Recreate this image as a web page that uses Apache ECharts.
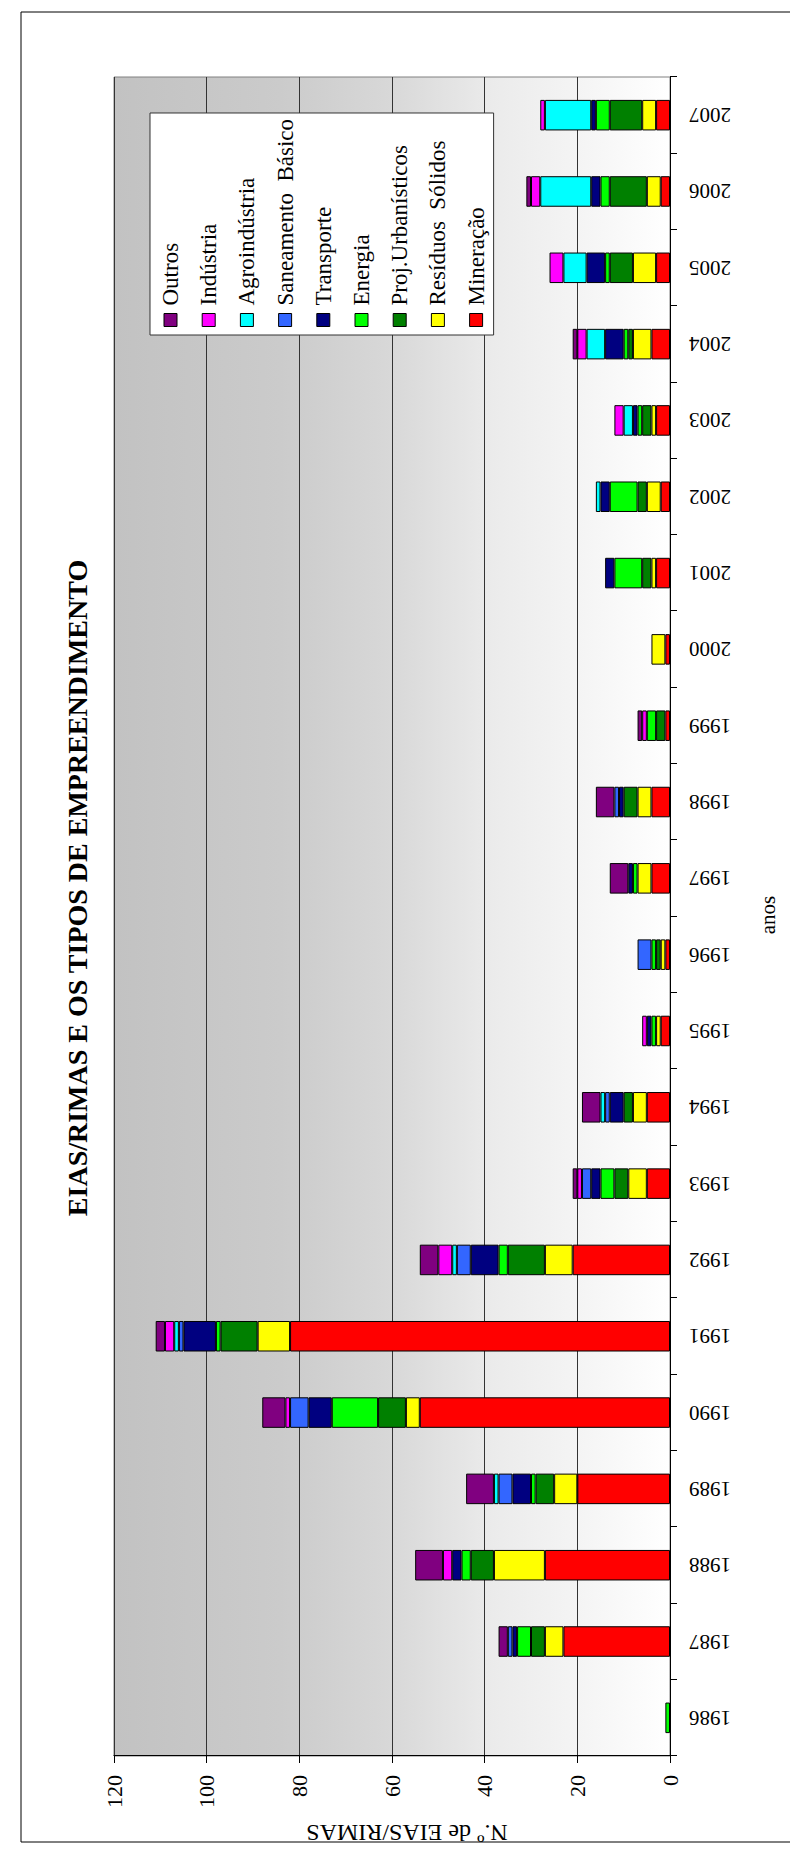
<!DOCTYPE html>
<html lang="pt">
<head>
<meta charset="utf-8">
<title>EIAS/RIMAS E OS TIPOS DE EMPREENDIMENTO</title>
<script src="https://cdn.jsdelivr.net/npm/echarts@6/dist/echarts.min.js"></script>
<style>
  html, body { margin: 0; padding: 0; background: #fff; overflow: hidden; }
  body { width: 790px; height: 1852px; position: relative; }
  /* the chart is laid out landscape and turned a quarter turn to fit the portrait page */
  #chart {
    position: absolute; left: 0; top: 0;
    width: 1852px; height: 790px;
    transform-origin: 0 0;
    transform: translateY(1852px) rotate(-90deg);
  }
</style>
</head>
<body>
<div id="chart"></div>
<script>
// Years on the category axis
const anos = ['1986','1987','1988','1989','1990','1991','1992','1993','1994','1995','1996',
              '1997','1998','1999','2000','2001','2002','2003','2004','2005','2006','2007'];

// Number of EIA/RIMA studies per enterprise type and year (1986 … 2007)
const mineracao      = [0,23,27,20,54,82,21,5,5,2,1,4,4,1,1,3,2,3,4,3,2,3];
const residuos       = [0,4,11,5,3,7,6,4,3,1,1,3,3,0,3,1,3,1,4,5,3,3];
const projUrbanos    = [0,3,5,4,6,8,8,3,2,0,1,0,3,2,0,2,2,2,1,5,8,7];
const energia        = [1,3,2,1,10,1,2,3,0,1,1,1,0,2,0,6,6,1,1,1,2,3];
const transporte     = [0,1,2,4,5,7,6,2,3,1,0,1,1,0,0,2,2,1,4,4,2,1];
const saneamento     = [0,1,0,3,4,1,3,2,1,0,3,0,1,0,0,0,0,0,0,0,0,0];
const agroindustria  = [0,0,0,1,0,1,1,0,1,0,0,0,0,0,0,0,1,2,4,5,11,10];
const industria      = [0,0,2,0,1,2,3,1,0,1,0,0,0,1,0,0,0,2,2,3,2,1];
const outros         = [0,2,6,6,5,2,4,1,4,0,0,4,4,1,0,0,0,0,1,0,1,0];

// Value axis ticks
const valorMin = 0, valorMax = 120, valorPasso = 20;

// Stack order, bottom to top
const tipos = [
  { nome: 'Mineração',         dados: mineracao,     cor: '#ff0000' },
  { nome: 'Resíduos  Sólidos', dados: residuos,      cor: '#ffff00' },
  { nome: 'Proj.Urbanísticos', dados: projUrbanos,   cor: '#008000' },
  { nome: 'Energia',           dados: energia,       cor: '#00ff00' },
  { nome: 'Transporte',        dados: transporte,    cor: '#000080' },
  { nome: 'Saneamento  Básico',dados: saneamento,    cor: '#3366ff' },
  { nome: 'Agroindústria',     dados: agroindustria, cor: '#00ffff' },
  { nome: 'Indústria',         dados: industria,     cor: '#ff00ff' },
  { nome: 'Outros',            dados: outros,        cor: '#800080' }
];

const serif = '"Liberation Serif", "Times New Roman", serif';

const chart = echarts.init(document.getElementById('chart'), null, { renderer: 'svg' });

const series = tipos.map(t => ({
  name: t.nome,
  type: 'bar',
  stack: 'total',
  barWidth: '40%',
  data: t.dados.map(v => (v === 0 ? null : v)),
  itemStyle: { color: t.cor, borderColor: '#000', borderWidth: 1 },
  emphasis: { disabled: true }
}));

chart.setOption({
  animation: false,
  backgroundColor: '#fff',
  grid: {
    left: 96, right: 77, top: 114, bottom: 120,
    show: true,
    borderColor: '#808080',
    borderWidth: 1,
    backgroundColor: {
      type: 'linear', x: 0, y: 0, x2: 0, y2: 1,
      colorStops: [
        { offset: 0.00, color: '#c2c2c2' },
        { offset: 0.30, color: '#cbcbcb' },
        { offset: 0.50, color: '#d8d8d8' },
        { offset: 0.68, color: '#ebebeb' },
        { offset: 0.85, color: '#f5f5f5' },
        { offset: 1.00, color: '#ffffff' }
      ]
    }
  },
  legend: {
    orient: 'vertical',
    left: 1517, top: 150,
    data: tipos.slice().reverse().map(t => t.nome),
    itemWidth: 13, itemHeight: 13,
    itemGap: 15.2,
    icon: 'rect',
    padding: [9, 6, 6, 8],
    backgroundColor: '#fff',
    borderColor: '#333',
    borderWidth: 1,
    selectedMode: false,
    itemStyle: { borderColor: '#000', borderWidth: 1 },
    textStyle: { fontFamily: serif, fontSize: 23, color: '#000', padding: [0, 0, 0, 3] }
  },
  xAxis: {
    type: 'category',
    data: anos,
    boundaryGap: true,
    axisLine: { show: true, lineStyle: { color: '#000', width: 1 } },
    axisTick: { show: true, inside: false, length: 7, lineStyle: { color: '#000' } },
    axisLabel: { rotate: 90, margin: 19, fontFamily: serif, fontSize: 21, color: '#000', interval: 0 },
    splitLine: { show: false }
  },
  yAxis: {
    type: 'value',
    min: valorMin, max: valorMax, interval: valorPasso,
    axisLine: { show: true, lineStyle: { color: '#000', width: 1 } },
    axisTick: { show: true, inside: false, length: 7, lineStyle: { color: '#000' } },
    axisLabel: { margin: 19, fontFamily: serif, fontSize: 22, color: '#000' },
    splitLine: { show: true, lineStyle: { color: '#333', width: 1 } }
  },
  series: series,
  graphic: [
    {
      type: 'rect', silent: true, z: -10,
      shape: { x: 10, y: 21, width: 1830, height: 800 },
      style: { fill: 'none', stroke: '#000', lineWidth: 1 }
    },
    {
      type: 'text', x: 964, y: 77, silent: true,
      style: {
        text: 'EIAS/RIMAS E OS TIPOS DE EMPREENDIMENTO',
        font: 'bold 28px ' + serif, fill: '#000',
        align: 'center', verticalAlign: 'middle'
      }
    },
    {
      type: 'text', x: 937, y: 768, silent: true,
      style: { text: 'anos', font: '21px ' + serif, fill: '#000', align: 'center', verticalAlign: 'middle' }
    },
    {
      type: 'text', x: 19, y: 407, rotation: Math.PI / 2, silent: true,
      style: { text: 'N.º de EIAS/RIMAS', font: '24px ' + serif, fill: '#000', align: 'center', verticalAlign: 'middle' }
    }
  ]
});
</script>
</body>
</html>
